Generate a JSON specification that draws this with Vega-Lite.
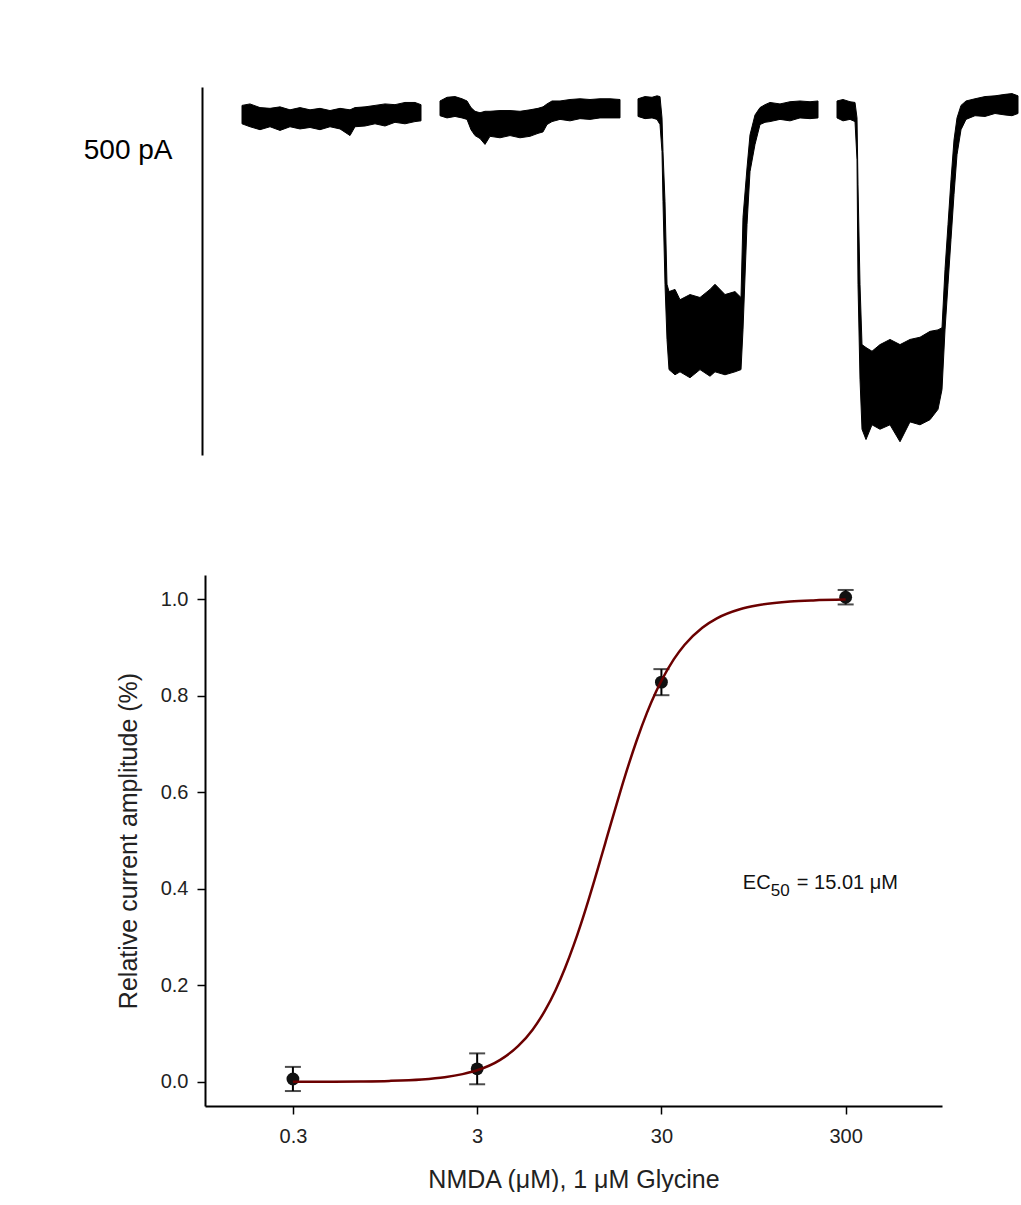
{
  "$schema": "https://vega.github.io/schema/vega-lite/v6.json",
  "background": "white",
  "padding": {"left": 83, "top": 87, "right": 0, "bottom": 0},
  "bounds": "flush",
  "spacing": 120,
  "config": {"font": "Liberation Sans", "view": {"stroke": null}},
  "datasets": {
    "trace": [
      {"seg": 1, "t": 9.25, "hi": 9, "lo": -16},
      {"seg": 1, "t": 11.25, "hi": 11, "lo": -20},
      {"seg": 1, "t": 13.75, "hi": 6, "lo": -24},
      {"seg": 1, "t": 16.25, "hi": 5, "lo": -20},
      {"seg": 1, "t": 18.75, "hi": 7, "lo": -25},
      {"seg": 1, "t": 21.25, "hi": 3, "lo": -20},
      {"seg": 1, "t": 23.75, "hi": 6, "lo": -23},
      {"seg": 1, "t": 26.25, "hi": 3, "lo": -21},
      {"seg": 1, "t": 28.75, "hi": 5, "lo": -24},
      {"seg": 1, "t": 31.25, "hi": 2, "lo": -20},
      {"seg": 1, "t": 33.75, "hi": 5, "lo": -23},
      {"seg": 1, "t": 36.25, "hi": 3, "lo": -32},
      {"seg": 1, "t": 37.5, "hi": 6, "lo": -20},
      {"seg": 1, "t": 40, "hi": 7, "lo": -19},
      {"seg": 1, "t": 42.5, "hi": 9, "lo": -16},
      {"seg": 1, "t": 45, "hi": 11, "lo": -19},
      {"seg": 1, "t": 47.5, "hi": 10, "lo": -14},
      {"seg": 1, "t": 50, "hi": 13, "lo": -16},
      {"seg": 1, "t": 52.5, "hi": 13, "lo": -13},
      {"seg": 1, "t": 54, "hi": 10, "lo": -12},
      {"seg": 2, "t": 58.75, "hi": 15, "lo": -5},
      {"seg": 2, "t": 60.5, "hi": 20, "lo": -8},
      {"seg": 2, "t": 62.5, "hi": 21, "lo": -6},
      {"seg": 2, "t": 64.25, "hi": 18, "lo": -8},
      {"seg": 2, "t": 65.5, "hi": 15, "lo": -10},
      {"seg": 2, "t": 66.5, "hi": 6, "lo": -24},
      {"seg": 2, "t": 67.5, "hi": 1, "lo": -32},
      {"seg": 2, "t": 68.75, "hi": -1, "lo": -36},
      {"seg": 2, "t": 70, "hi": 1, "lo": -44},
      {"seg": 2, "t": 71.25, "hi": 1, "lo": -33},
      {"seg": 2, "t": 73.75, "hi": 2, "lo": -35},
      {"seg": 2, "t": 76.25, "hi": 2, "lo": -32},
      {"seg": 2, "t": 78.75, "hi": 1, "lo": -35},
      {"seg": 2, "t": 81.25, "hi": 3, "lo": -33},
      {"seg": 2, "t": 83.25, "hi": 5, "lo": -29},
      {"seg": 2, "t": 84.5, "hi": 7, "lo": -27},
      {"seg": 2, "t": 85.5, "hi": 11, "lo": -17},
      {"seg": 2, "t": 86.75, "hi": 15, "lo": -13},
      {"seg": 2, "t": 88.75, "hi": 15, "lo": -10},
      {"seg": 2, "t": 91.25, "hi": 17, "lo": -12},
      {"seg": 2, "t": 93.75, "hi": 18, "lo": -9},
      {"seg": 2, "t": 96.25, "hi": 17, "lo": -10},
      {"seg": 2, "t": 98.75, "hi": 18, "lo": -8},
      {"seg": 2, "t": 101.25, "hi": 18, "lo": -8},
      {"seg": 2, "t": 103.75, "hi": 17, "lo": -8},
      {"seg": 3, "t": 108.25, "hi": 18, "lo": -6},
      {"seg": 3, "t": 110, "hi": 21, "lo": -9},
      {"seg": 3, "t": 111.75, "hi": 20, "lo": -8},
      {"seg": 3, "t": 113, "hi": 22, "lo": -10},
      {"seg": 3, "t": 113.75, "hi": 21, "lo": -17},
      {"seg": 3, "t": 114.25, "hi": -8, "lo": -54},
      {"seg": 3, "t": 114.5, "hi": -54, "lo": -122},
      {"seg": 3, "t": 115, "hi": -122, "lo": -234},
      {"seg": 3, "t": 115.5, "hi": -234, "lo": -309},
      {"seg": 3, "t": 116, "hi": -244, "lo": -350},
      {"seg": 3, "t": 117.5, "hi": -241, "lo": -357},
      {"seg": 3, "t": 118.75, "hi": -255, "lo": -353},
      {"seg": 3, "t": 121.25, "hi": -248, "lo": -361},
      {"seg": 3, "t": 123.75, "hi": -252, "lo": -350},
      {"seg": 3, "t": 126.25, "hi": -241, "lo": -359},
      {"seg": 3, "t": 127.5, "hi": -234, "lo": -353},
      {"seg": 3, "t": 130, "hi": -248, "lo": -357},
      {"seg": 3, "t": 132.5, "hi": -244, "lo": -353},
      {"seg": 3, "t": 134, "hi": -252, "lo": -350},
      {"seg": 3, "t": 134.5, "hi": -143, "lo": -296},
      {"seg": 3, "t": 135.5, "hi": -76, "lo": -153},
      {"seg": 3, "t": 136.25, "hi": -31, "lo": -81},
      {"seg": 3, "t": 137.5, "hi": -4, "lo": -44},
      {"seg": 3, "t": 138.75, "hi": 6, "lo": -17},
      {"seg": 3, "t": 140, "hi": 10, "lo": -14},
      {"seg": 3, "t": 141.25, "hi": 13, "lo": -13},
      {"seg": 3, "t": 143.75, "hi": 11, "lo": -10},
      {"seg": 3, "t": 146.25, "hi": 14, "lo": -12},
      {"seg": 3, "t": 148.75, "hi": 15, "lo": -8},
      {"seg": 3, "t": 151.25, "hi": 14, "lo": -9},
      {"seg": 3, "t": 153.25, "hi": 15, "lo": -8},
      {"seg": 4, "t": 158, "hi": 15, "lo": -8},
      {"seg": 4, "t": 159.5, "hi": 17, "lo": -12},
      {"seg": 4, "t": 161.25, "hi": 14, "lo": -10},
      {"seg": 4, "t": 162.5, "hi": 13, "lo": -13},
      {"seg": 4, "t": 163, "hi": -8, "lo": -65},
      {"seg": 4, "t": 163.25, "hi": -99, "lo": -234},
      {"seg": 4, "t": 163.75, "hi": -234, "lo": -363},
      {"seg": 4, "t": 164.25, "hi": -316, "lo": -431},
      {"seg": 4, "t": 165.25, "hi": -320, "lo": -445},
      {"seg": 4, "t": 166.75, "hi": -325, "lo": -425},
      {"seg": 4, "t": 168.75, "hi": -316, "lo": -431},
      {"seg": 4, "t": 171.25, "hi": -309, "lo": -425},
      {"seg": 4, "t": 173.75, "hi": -316, "lo": -448},
      {"seg": 4, "t": 176.25, "hi": -309, "lo": -421},
      {"seg": 4, "t": 178.75, "hi": -306, "lo": -425},
      {"seg": 4, "t": 181.25, "hi": -298, "lo": -418},
      {"seg": 4, "t": 183.25, "hi": -296, "lo": -404},
      {"seg": 4, "t": 184.25, "hi": -293, "lo": -377},
      {"seg": 4, "t": 185, "hi": -214, "lo": -296},
      {"seg": 4, "t": 185.75, "hi": -153, "lo": -234},
      {"seg": 4, "t": 186.5, "hi": -92, "lo": -173},
      {"seg": 4, "t": 187.25, "hi": -38, "lo": -112},
      {"seg": 4, "t": 188, "hi": -8, "lo": -58},
      {"seg": 4, "t": 189, "hi": 9, "lo": -24},
      {"seg": 4, "t": 190.25, "hi": 15, "lo": -10},
      {"seg": 4, "t": 192.5, "hi": 18, "lo": -5},
      {"seg": 4, "t": 195, "hi": 21, "lo": -6},
      {"seg": 4, "t": 197.5, "hi": 22, "lo": -2},
      {"seg": 4, "t": 200, "hi": 24, "lo": -4},
      {"seg": 4, "t": 201.75, "hi": 25, "lo": -5},
      {"seg": 4, "t": 203.25, "hi": 22, "lo": -2}
    ],
    "points": [
      {"conc": 0.3, "mean": 0.006, "lo": -0.019, "hi": 0.031},
      {"conc": 3, "mean": 0.027, "lo": -0.005, "hi": 0.059},
      {"conc": 30, "mean": 0.828, "lo": 0.801, "hi": 0.855},
      {"conc": 300, "mean": 1.004, "lo": 0.989, "hi": 1.019}
    ],
    "curve": [
      {"conc": 0.3, "fit": 0.0001},
      {"conc": 0.5, "fit": 0.0004},
      {"conc": 0.7, "fit": 0.0009},
      {"conc": 1, "fit": 0.002},
      {"conc": 1.5, "fit": 0.005},
      {"conc": 2, "fit": 0.0096},
      {"conc": 2.5, "fit": 0.016},
      {"conc": 3, "fit": 0.024},
      {"conc": 4, "fit": 0.0456},
      {"conc": 5, "fit": 0.0739},
      {"conc": 6, "fit": 0.1082},
      {"conc": 7, "fit": 0.1475},
      {"conc": 8, "fit": 0.1904},
      {"conc": 9, "fit": 0.2357},
      {"conc": 10, "fit": 0.2821},
      {"conc": 11, "fit": 0.3285},
      {"conc": 12, "fit": 0.3741},
      {"conc": 13, "fit": 0.4181},
      {"conc": 14, "fit": 0.4601},
      {"conc": 15, "fit": 0.4996},
      {"conc": 16, "fit": 0.5367},
      {"conc": 18, "fit": 0.603},
      {"conc": 20, "fit": 0.6593},
      {"conc": 22, "fit": 0.7067},
      {"conc": 25, "fit": 0.7638},
      {"conc": 28, "fit": 0.8075},
      {"conc": 30, "fit": 0.831},
      {"conc": 35, "fit": 0.8751},
      {"conc": 40, "fit": 0.9051},
      {"conc": 50, "fit": 0.9409},
      {"conc": 60, "fit": 0.9603},
      {"conc": 80, "fit": 0.9791},
      {"conc": 100, "fit": 0.9874},
      {"conc": 150, "fit": 0.995},
      {"conc": 200, "fit": 0.9974},
      {"conc": 300, "fit": 0.999}
    ],
    "label": [{"conc": 83, "y": 0.4}]
  },
  "vconcat": [
    {
      "width": 816,
      "height": 368,
      "data": {"name": "trace"},
      "mark": {"type": "area", "color": "black", "interpolate": "linear", "stroke": "black", "strokeWidth": 1},
      "encoding": {
        "x": {"field": "t", "type": "quantitative", "scale": {"domain": [0, 204], "nice": false, "zero": false}, "axis": null},
        "y": {
          "field": "hi", "type": "quantitative",
          "scale": {"domain": [-466, 34], "nice": false, "zero": false},
          "axis": {
            "title": "500 pA", "orient": "left", "offset": 3, "ticks": false, "labels": false, "grid": false,
            "domainColor": "black", "domainWidth": 2, "domainCap": "butt",
            "titleAngle": 0, "titleAlign": "right", "titleBaseline": "middle",
            "titleX": -30, "titleY": 63, "titleFontSize": 28, "titleFontWeight": "normal", "titleColor": "black"
          }
        },
        "y2": {"field": "lo"},
        "detail": {"field": "seg"}
      }
    },
    {
      "width": 737,
      "height": 531,
      "encoding": {
        "x": {
          "field": "conc", "type": "quantitative",
          "scale": {"type": "log", "domain": [0.1, 1000], "nice": false},
          "axis": {
            "title": "NMDA (μM), 1 μM Glycine", "values": [0.3, 3, 30, 300], "format": "~g",
            "grid": false, "domainColor": "black", "domainWidth": 2, "tickColor": "black", "tickWidth": 1.5, "tickSize": 8,
            "labelFontSize": 20, "labelColor": "#222", "labelPadding": 12,
            "titleFontSize": 25, "titleFontWeight": "normal", "titleColor": "#222", "titlePadding": 21
          }
        }
      },
      "layer": [
        {
          "data": {"name": "points"},
          "mark": {"type": "rule", "color": "black", "strokeWidth": 2},
          "encoding": {
            "y": {
              "field": "lo", "type": "quantitative",
              "scale": {"domain": [-0.05, 1.05], "nice": false, "zero": false},
              "title": "Relative current amplitude (%)",
              "axis": {
                "values": [0, 0.2, 0.4, 0.6, 0.8, 1.0], "format": ".1f", "grid": false,
                "domainColor": "black", "domainWidth": 2, "tickColor": "black", "tickWidth": 1.5, "tickSize": 8,
                "labelFontSize": 20, "labelColor": "#222", "labelPadding": 9,
                "titleFontSize": 25, "titleFontWeight": "normal", "titleColor": "#222", "titlePadding": 19
              }
            },
            "y2": {"field": "hi"}
          }
        },
        {
          "data": {"name": "points"},
          "mark": {"type": "tick", "orient": "horizontal", "color": "black", "size": 16, "thickness": 2},
          "encoding": {"y": {"field": "lo", "type": "quantitative", "title": "Relative current amplitude (%)"}}
        },
        {
          "data": {"name": "points"},
          "mark": {"type": "tick", "orient": "horizontal", "color": "black", "size": 16, "thickness": 2},
          "encoding": {"y": {"field": "hi", "type": "quantitative", "title": "Relative current amplitude (%)"}}
        },
        {
          "data": {"name": "points"},
          "mark": {"type": "point", "filled": true, "shape": "circle", "size": 165, "color": "#111", "opacity": 1},
          "encoding": {"y": {"field": "mean", "type": "quantitative", "title": "Relative current amplitude (%)"}}
        },
        {
          "data": {"name": "curve"},
          "mark": {"type": "line", "color": "#6b0000", "strokeWidth": 2.5, "interpolate": "monotone"},
          "encoding": {"y": {"field": "fit", "type": "quantitative", "title": "Relative current amplitude (%)"}}
        },
        {
          "data": {"name": "label"},
          "mark": {"type": "text", "text": "EC", "align": "left", "baseline": "alphabetic", "fontSize": 20, "color": "#111"},
          "encoding": {"y": {"field": "y", "type": "quantitative", "title": "Relative current amplitude (%)"}}
        },
        {
          "data": {"name": "label"},
          "mark": {"type": "text", "text": "50", "align": "left", "baseline": "alphabetic", "fontSize": 17, "dx": 28, "dy": 7, "color": "#111"},
          "encoding": {"y": {"field": "y", "type": "quantitative", "title": "Relative current amplitude (%)"}}
        },
        {
          "data": {"name": "label"},
          "mark": {"type": "text", "text": "= 15.01 μM", "align": "left", "baseline": "alphabetic", "fontSize": 20, "dx": 54, "color": "#111"},
          "encoding": {"y": {"field": "y", "type": "quantitative", "title": "Relative current amplitude (%)"}}
        }
      ]
    }
  ]
}
